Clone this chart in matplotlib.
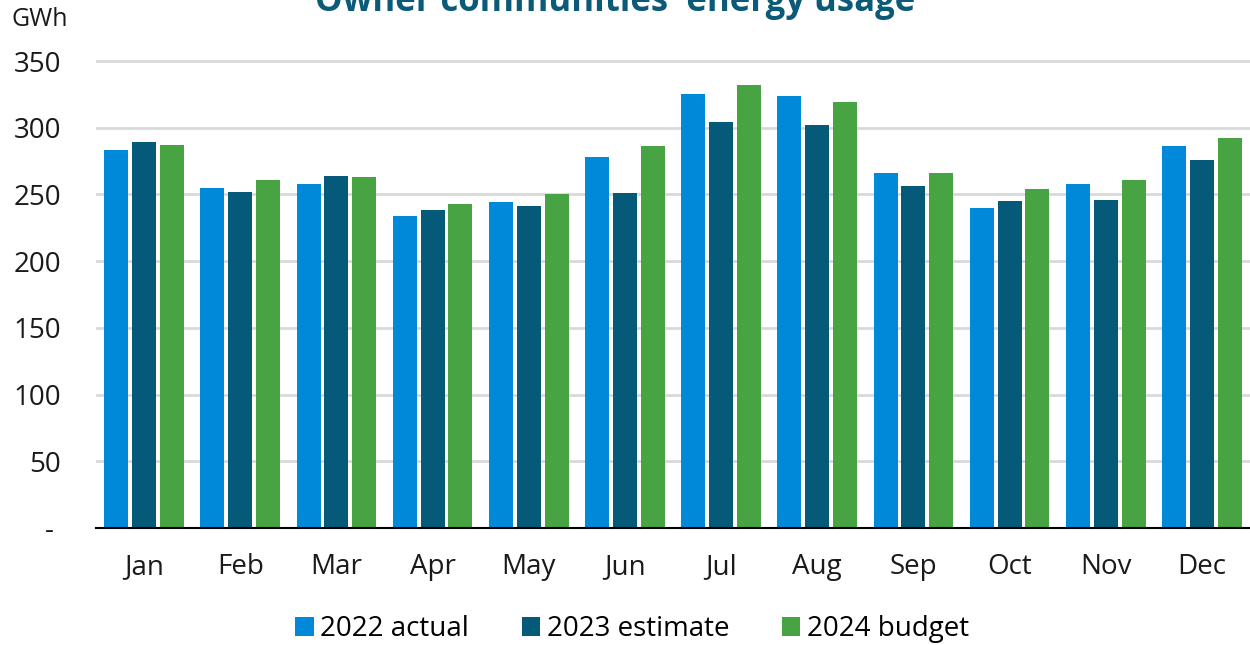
import matplotlib
matplotlib.use("Agg")
import matplotlib.pyplot as plt
import numpy as np

months = ["Jan", "Feb", "Mar", "Apr", "May", "Jun", "Jul", "Aug", "Sep", "Oct", "Nov", "Dec"]
actual_2022 = [283, 255, 258, 234, 244, 278, 325, 324, 266, 240, 258, 286]
estimate_2023 = [289, 252, 264, 238, 241, 251, 304, 302, 256, 245, 246, 276]
budget_2024 = [287, 261, 263, 243, 250, 286, 332, 319, 266, 254, 261, 292]
series_names = ["2022 actual", "2023 estimate", "2024 budget"]
colors = ["#0089D8", "#045A78", "#48A342"]
yticks = [0, 50, 100, 150, 200, 250, 300, 350]
ytick_labels = ["- ", "50", "100", "150", "200", "250", "300", "350"]

plt.rcParams['font.family'] = ['Open Sans', 'DejaVu Sans']

fig = plt.figure(figsize=(12.5, 6.45), dpi=100)
ax = fig.add_axes([0.0768, 0.1814, 0.9232, 0.9157 - 0.1814])

x = np.arange(len(months))
w = 0.25
step = 0.29
for i, (vals, name, c) in enumerate(zip([actual_2022, estimate_2023, budget_2024], series_names, colors)):
    ax.bar(x + (i - 1) * step, vals, width=w, color=c, label=name, zorder=3)

ax.set_xlim(-0.5, 11.5)
ax.set_ylim(0, 355)
ax.set_yticks(yticks)
ax.set_yticklabels(ytick_labels, fontsize=20, color="#1A1A1A")
ax.set_xticks(x)
ax.set_xticklabels(months, fontsize=20, color="#1A1A1A")
ax.tick_params(axis='both', length=0)
ax.tick_params(axis='y', pad=25)
ax.tick_params(axis='x', pad=18)
ax.grid(axis='y', color="#D9D9D9", linewidth=2, zorder=0)
for s in ["top", "right", "left"]:
    ax.spines[s].set_visible(False)
ax.spines["bottom"].set_color("#000000")
ax.spines["bottom"].set_linewidth(1.5)
ax.spines["bottom"].set_zorder(4)

fig.text(0.009, 1 - 20 / 645, "GWh", fontsize=18, va='center', ha='left', color="#1A1A1A")
fig.text(0.492, 1 - 11 / 645, "Owner communities' energy usage", fontsize=25, fontweight='bold',
         color="#0A5A78", ha='center', va='baseline')

leg = fig.legend(loc='center', bbox_to_anchor=(0.506, 1 - 629 / 645), ncol=3, frameon=False,
                 fontsize=20, handlelength=0.65, handleheight=0.65, handletextpad=0.25,
                 columnspacing=1.9)

fig.savefig("out.png", dpi=100)
